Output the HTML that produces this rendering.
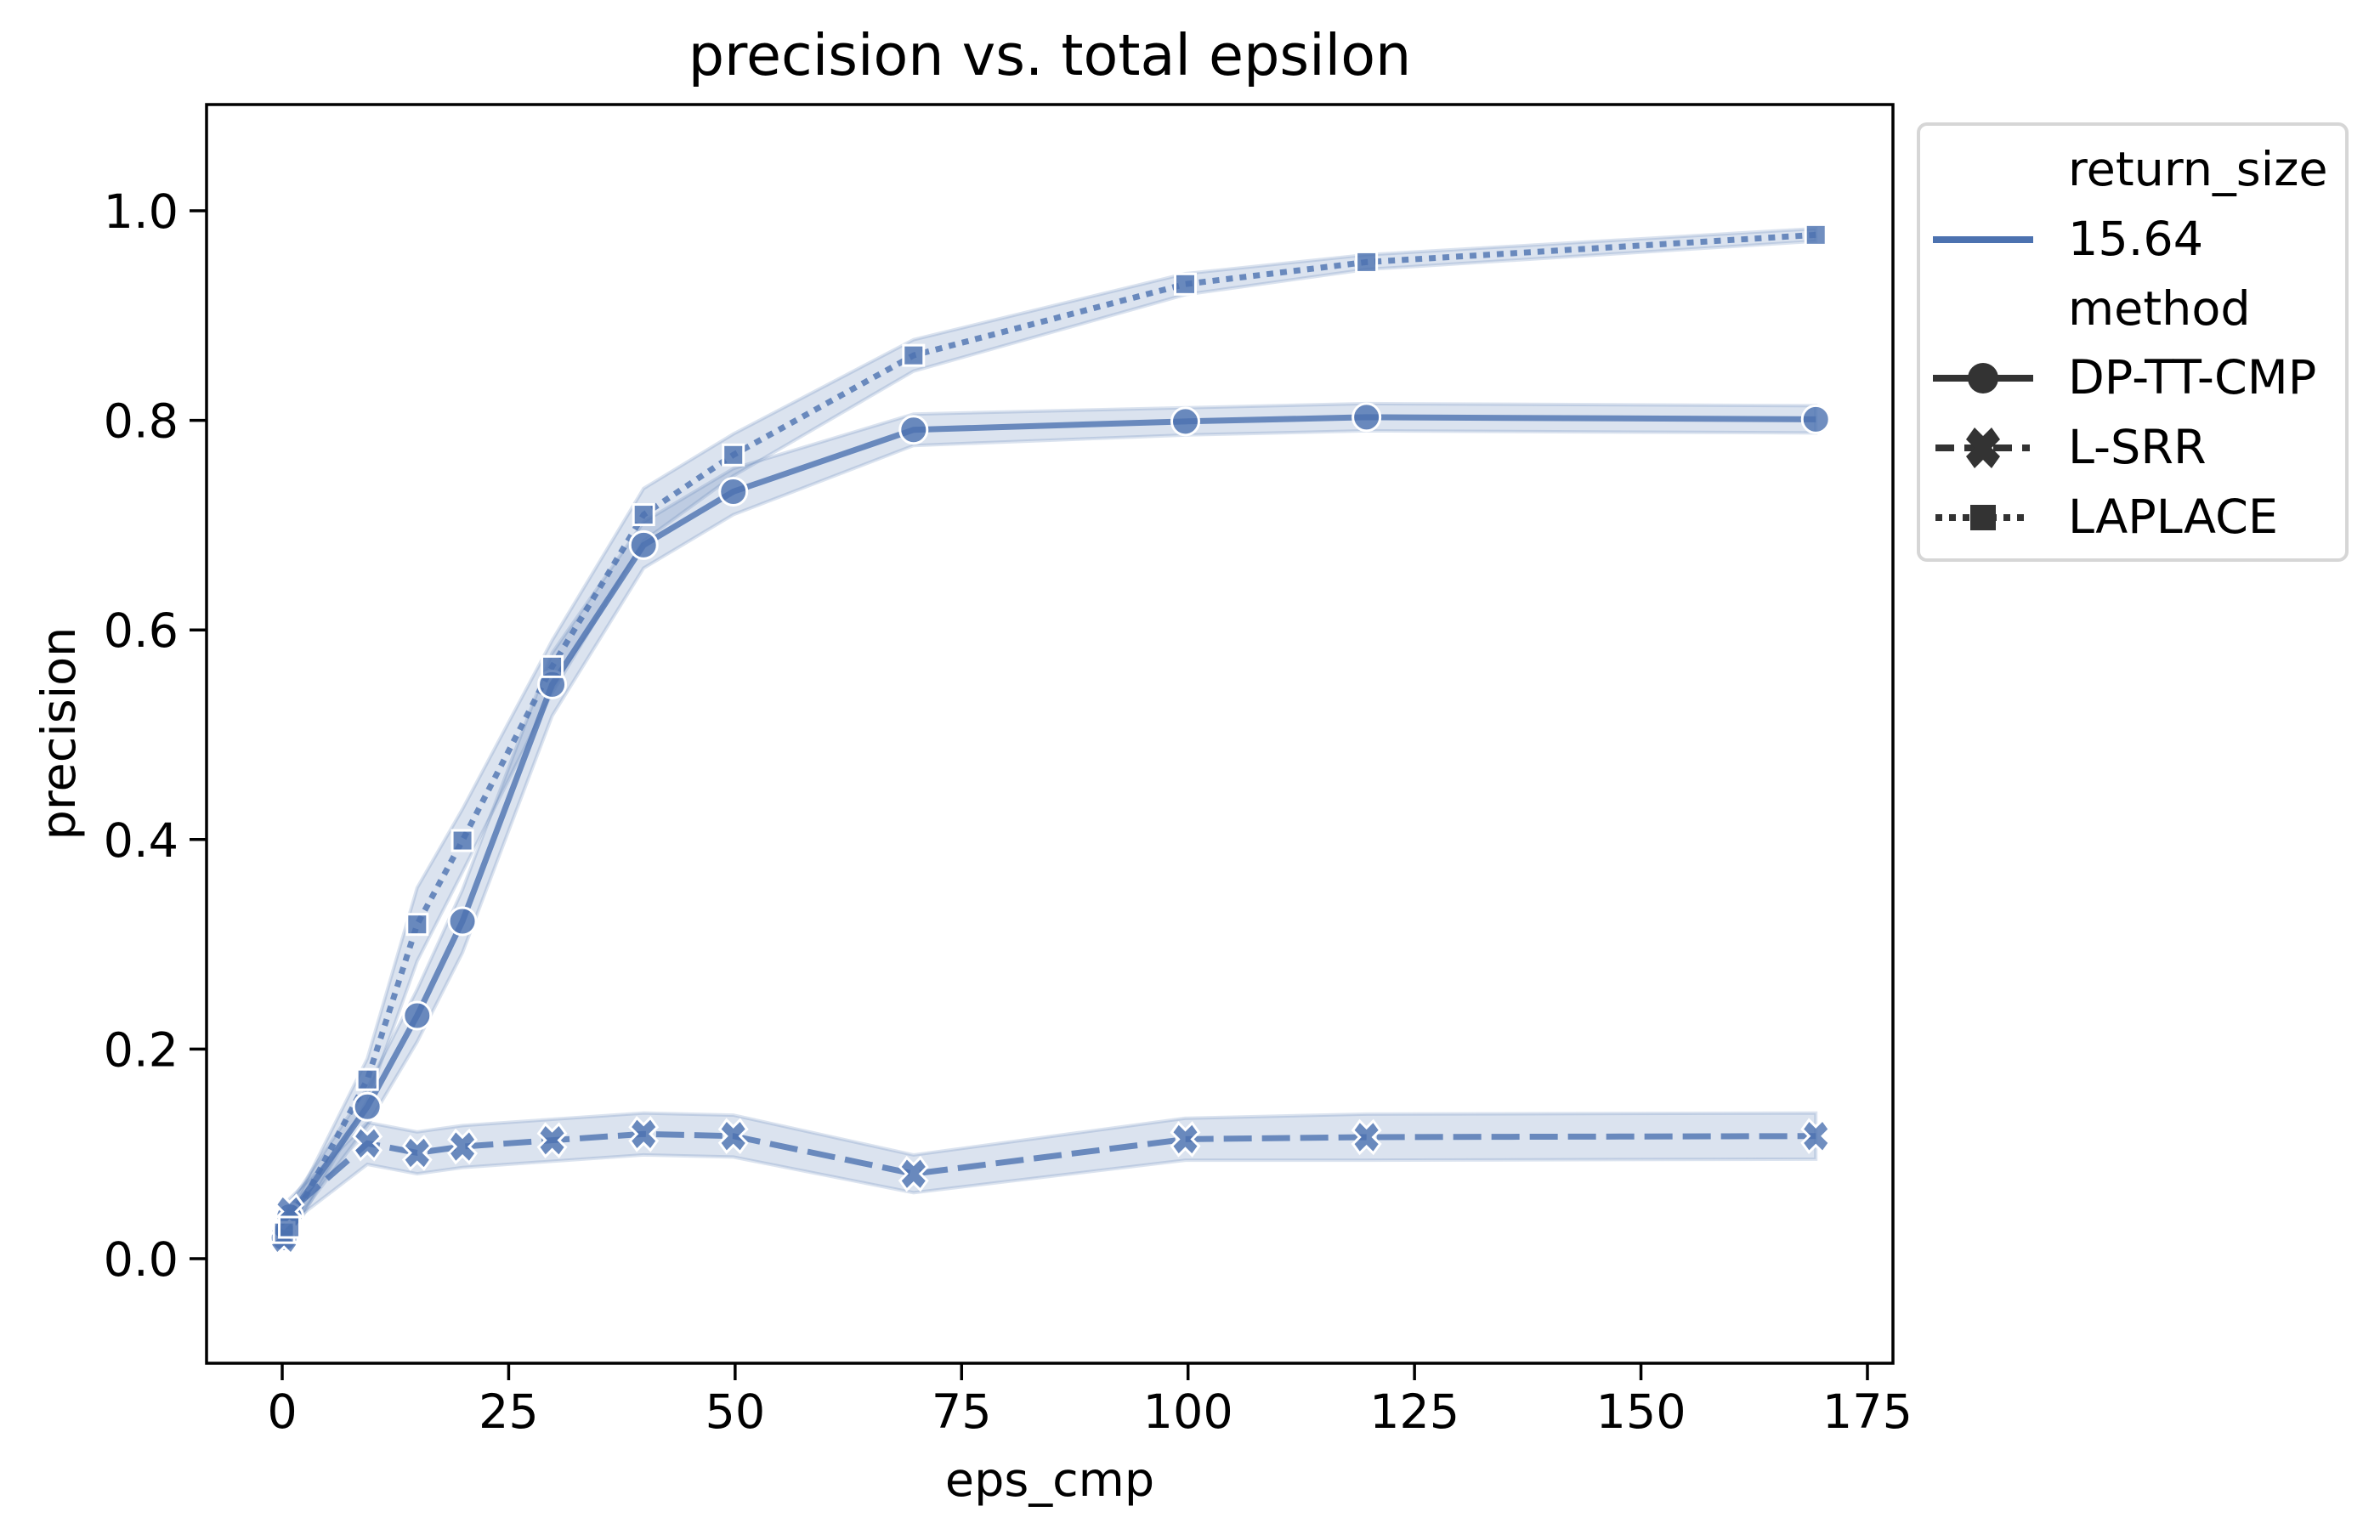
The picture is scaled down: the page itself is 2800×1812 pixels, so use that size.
<!DOCTYPE html>
<html><head><meta charset="utf-8"><style>
html,body{margin:0;padding:0;background:#fff;}
svg{display:block;font-family:"DejaVu Sans","Liberation Sans",sans-serif;}
</style></head><body>
<svg id="chart" width="2800" height="1812" viewBox="0 0 2800 1812" xmlns="http://www.w3.org/2000/svg">
<rect width="2800" height="1812" fill="#fff"/>
<g id="bands"></g>
<g id="lines"></g>
<g id="marks"></g>
<rect x="243" y="123" width="1984" height="1481" fill="none" stroke="#000" stroke-width="3.5"/>
<g id="xticks"></g>
<g id="yticks"></g>
<text x="1235" y="88" font-size="66.7" text-anchor="middle">precision vs. total epsilon</text>
<text x="1235" y="1760" font-size="55.6" text-anchor="middle">eps_cmp</text>
<text transform="translate(88,863) rotate(-90)" font-size="55.6" text-anchor="middle">precision</text>
<g>
<rect x="2257" y="146" width="504" height="513" rx="10" fill="#fff" fill-opacity="0.8" stroke="#d6d6d6" stroke-width="4"/>
<text x="2433" y="218" font-size="55.6">return_size</text>
<line x1="2274" y1="282" x2="2392" y2="282" stroke="#4c72b0" stroke-width="8"/>
<text x="2433" y="300" font-size="55.6">15.64</text>
<text x="2433" y="382" font-size="55.6">method</text>
<line x1="2274" y1="445" x2="2392" y2="445" stroke="#333" stroke-width="8"/>
<ellipse cx="2333" cy="445" rx="18" ry="18" fill="#333"/>
<text x="2433" y="463" font-size="55.6">DP-TT-CMP</text>
<line x1="2277" y1="527" x2="2388" y2="527" stroke="#333" stroke-width="8" stroke-dasharray="22,12"/>
<path d="M2333,527 m-20,-10 l10,-14 l10,10 l10,-10 l10,14 l-10,10 l10,10 l-10,14 l-10,-10 l-10,10 l-10,-14 l10,-10 z" fill="#333"/>
<text x="2433" y="545" font-size="55.6">L-SRR</text>
<line x1="2277" y1="609" x2="2388" y2="609" stroke="#333" stroke-width="8" stroke-dasharray="8,8"/>
<rect x="2318" y="594" width="30" height="30" fill="#333"/>
<text x="2433" y="627" font-size="55.6">LAPLACE</text>
</g>
</svg>
<script>
const xValues = [0.2, 0.8, 9.4, 14.9, 19.9, 29.8, 39.9, 49.8, 69.7, 99.7, 119.7, 169.3];
const dpValues = [0.02, 0.04, 0.145, 0.232, 0.322, 0.548, 0.681, 0.732, 0.791, 0.799, 0.803, 0.801];
const dpErr = [0.01, 0.012, 0.018, 0.025, 0.03, 0.03, 0.022, 0.022, 0.015, 0.013, 0.013, 0.013];
const lsrrValues = [0.02, 0.045, 0.110, 0.101, 0.107, 0.113, 0.119, 0.117, 0.081, 0.114, 0.116, 0.117];
const lsrrErr = [0.01, 0.012, 0.02, 0.02, 0.02, 0.02, 0.02, 0.02, 0.018, 0.02, 0.022, 0.022];
const lapValues = [0.025, 0.03, 0.171, 0.319, 0.399, 0.565, 0.710, 0.767, 0.862, 0.930, 0.951, 0.977];
const lapErr = [0.01, 0.012, 0.02, 0.035, 0.03, 0.025, 0.025, 0.02, 0.015, 0.01, 0.007, 0.006];
const xTickValues = [0, 25, 50, 75, 100, 125, 150, 175];
const yTickValues = [0.0, 0.2, 0.4, 0.6, 0.8, 1.0];

const NS = "http://www.w3.org/2000/svg";
function xs(v){ return 332 + v * 10.657; }
function ys(v){ return 1481 - v * 1233; }
function mk(tag, attrs, parent){
  const el = document.createElementNS(NS, tag);
  for (const k in attrs) el.setAttribute(k, attrs[k]);
  parent.appendChild(el);
  return el;
}
const C = "#4c72b0";
const bands = document.getElementById("bands");
const lines = document.getElementById("lines");
const marks = document.getElementById("marks");

const series = [
  {name:"dp-tt-cmp", vals:dpValues, err:dpErr, dash:"none", marker:"circle"},
  {name:"l-srr", vals:lsrrValues, err:lsrrErr, dash:"33,12", marker:"x"},
  {name:"laplace", vals:lapValues, err:lapErr, dash:"8,8", marker:"square"}
];
series.forEach(s => {
  let up = [], dn = [];
  xValues.forEach((x,i) => { up.push(xs(x)+","+ys(s.vals[i]+s.err[i])); dn.unshift(xs(x)+","+ys(s.vals[i]-s.err[i])); });
  const b = mk("polygon", {points: up.concat(dn).join(" "), fill:C, "fill-opacity":0.2, stroke:C, "stroke-opacity":0.2, "stroke-width":4}, bands);
  
  
  const pts = xValues.map((x,i) => xs(x)+","+ys(s.vals[i])).join(" ");
  const l = mk("polyline", {points: pts, fill:"none", stroke:C, "stroke-opacity":0.8, "stroke-width":7, "stroke-dasharray":s.dash}, lines);
  
  
  xValues.forEach((x,i) => {
    const cx = xs(x), cy = ys(s.vals[i]);
    let m;
    if (s.marker === "circle") {
      m = mk("circle", {cx:cx, cy:cy, r:16, fill:C, "fill-opacity":0.8, stroke:"#fff", "stroke-width":3}, marks);
    } else if (s.marker === "square") {
      m = mk("rect", {x:cx-12, y:cy-12, width:24, height:24, fill:C, "fill-opacity":0.8, stroke:"#fff", "stroke-width":3}, marks);
    } else {
      const d = "M"+cx+","+cy+" m-16,-8 l8,-11 l8,8 l8,-8 l8,11 l-8,8 l8,8 l-8,11 l-8,-8 l-8,8 l-8,-11 l8,-8 z";
      m = mk("path", {d:d, fill:C, "fill-opacity":0.8, stroke:"#fff", "stroke-width":3}, marks);
    }
    
    
  });
});

const xt = document.getElementById("xticks");
xTickValues.forEach(v => {
  const t = mk("line", {x1:xs(v), y1:1604, x2:xs(v), y2:1624, stroke:"#000", "stroke-width":3.5}, xt);
  
  
  const tx = mk("text", {x:xs(v), y:1680, "font-size":55.6, "text-anchor":"middle"}, xt);
  tx.textContent = String(v);
  
  
});
const yt = document.getElementById("yticks");
yTickValues.forEach(v => {
  const t = mk("line", {x1:223, y1:ys(v), x2:243, y2:ys(v), stroke:"#000", "stroke-width":3.5}, yt);
  
  
  const tx = mk("text", {x:210, y:ys(v)+20, "font-size":55.6, "text-anchor":"end"}, yt);
  tx.textContent = v.toFixed(1);
  
  
});
</script>
</body></html>
